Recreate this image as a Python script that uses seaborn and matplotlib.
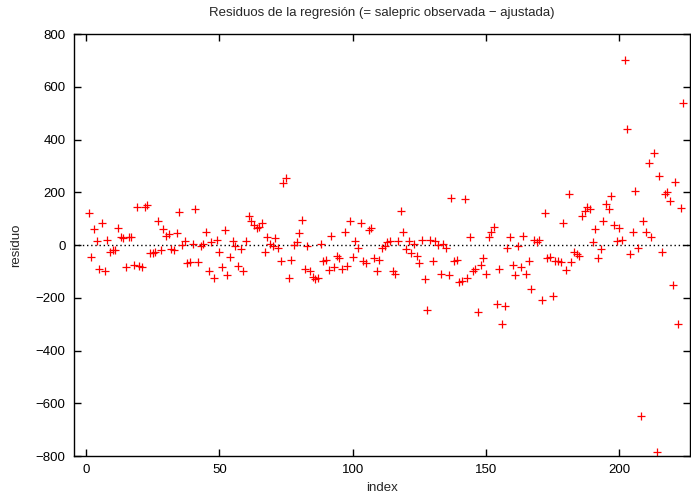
import numpy as np
import pandas as pd
import matplotlib
matplotlib.use("Agg")
import matplotlib.pyplot as plt
import seaborn as sns

residuo = [
    120, -45, 60, 15, -90, 85, -100, 20, -25, -20,
    -20, 65, 30, 25, -85, 30, 30, -75, 145, -80,
    -85, 145, 150, -30, -30, -25, 90, -20, 60, 35,
    40, -15, -20, 45, 125, 0, 15, -70, -65, 5,
    135, -65, -5, 5, 50, -100, 10, -125, 20, -25,
    -85, 55, -115, -45, 15, -5, -80, -15, -100, 15,
    110, 90, 75, 65, 70, 85, -25, 30, 5, -5,
    25, -10, -60, 235, 255, -125, -55, 0, 10, 45,
    95, -90, -5, -100, -120, -130, -125, 5, -60, -55,
    -95, 35, -85, -40, -50, -90, 50, -80, 90, -45,
    15, -10, 85, -60, -70, 55, 65, -50, -100, -55,
    -10, -5, 10, 15, -100, -110, 15, 130, 50, -15,
    15, -30, 5, -40, -70, 20, -130, -245, 20, -60,
    15, 0, -110, 5, -10, -115, 180, -60, -55, -140,
    -135, 175, -125, 30, -100, -90, -255, -75, -50, -110,
    30, 50, 70, -225, -90, -300, -230, -10, 30, -75,
    -115, -5, -85, 35, -110, -60, -165, 20, 10, 20,
    -210, 120, -50, -45, -195, -60, -60, -65, 85, -95,
    195, -65, -25, -35, -40, 110, 130, 145, 135, 10,
    60, -50, -15, 90, 155, 135, 185, 75, 15, 65,
    20, 700, 440, -35, 50, 205, -10, -650, 90, 50,
    310, 30, 350, -785, 260, -25, 195, 200, 165, -150,
    240, -300, 140, 540,
]
index = list(range(1, len(residuo) + 1))

df = pd.DataFrame({"index": index, "residuo": residuo})

sns.set_theme(style="ticks")
plt.rcParams["font.family"] = ["Liberation Sans", "DejaVu Sans"]

fig = plt.figure(figsize=(6.91, 4.99), dpi=100)
ax = fig.add_axes([74 / 691, 1 - 456 / 499, (690 - 74) / 691, (456 - 34) / 499])

sns.scatterplot(data=df, x="index", y="residuo", marker="+", color="red",
                s=32, linewidth=0.9, ax=ax, legend=False)
ax.axhline(0, color="black", linestyle=(0, (1, 2)), linewidth=1.0, zorder=0)

ax.set_xlim(-4.5, 226.5)
ax.set_ylim(-800, 800)
ax.set_xticks([0, 50, 100, 150, 200])
ax.set_yticks(list(range(-800, 801, 200)))
ax.set_yticklabels([f"{v}".replace("-", "\u2212") for v in range(-800, 801, 200)])
ax.tick_params(direction="in", top=True, right=True, length=5, width=1,
               labelsize=9.5, colors="black", pad=6)
for sp in ax.spines.values():
    sp.set_visible(True)
    sp.set_linewidth(1.0)
    sp.set_color("black")

ax.set_xlabel("index", fontsize=9.5, labelpad=4)
ax.set_ylabel("residuo", fontsize=9.5, labelpad=10)
ax.set_title("Residuos de la regresión (= salepric observada \u2212 ajustada)",
             fontsize=9.5, pad=13)

fig.savefig("out.png", dpi=100)
